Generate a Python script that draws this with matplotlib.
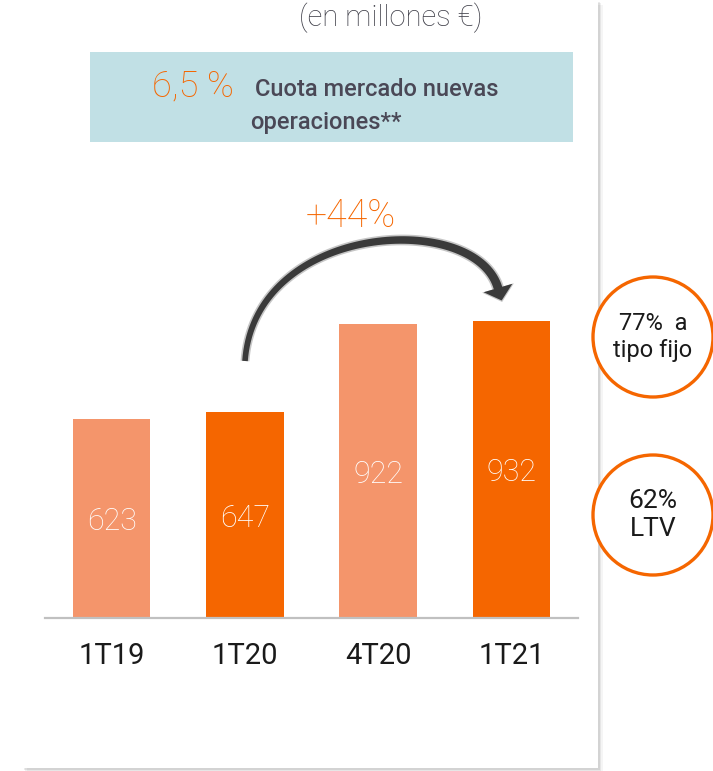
import matplotlib
matplotlib.use('Agg')
import matplotlib.pyplot as plt
import numpy as np
from matplotlib.patches import Rectangle, Ellipse, Polygon

plt.rcParams['font.family'] = ['Roboto', 'Open Sans', 'DejaVu Sans']

# data
periods = ['1T19', '1T20', '4T20', '1T21']
volumes = [623, 647, 922, 932]
bar_colors = ['#F4956B', '#F56600', '#F4956B', '#F56600']
growth_label = '+44%'
share_value = '6,5 %'
share_text = ['Cuota mercado nuevas', 'operaciones**']
badges = [['77%  a', 'tipo fijo'], ['62%', 'LTV']]

W, H = 713, 771
fig = plt.figure(figsize=(W / 100, H / 100), dpi=100)
fig.patch.set_facecolor('white')


def px(x, y):
    # pixel position (from top-left) to figure fraction
    return (x / W, 1 - y / H)


# card with soft shadow
for off, a in [(5, 0.04), (3, 0.06), (1.5, 0.08)]:
    fig.patches.append(Rectangle(px(22 + off, 768 + off), (598 - 22) / W, 768 / H,
                                 transform=fig.transFigure, facecolor='black',
                                 alpha=a, edgecolor='none', zorder=0))
fig.patches.append(Rectangle(px(22, 768), (598 - 22) / W, 768 / H,
                             transform=fig.transFigure, facecolor='white',
                             edgecolor='none', zorder=1))

# title
fig.text(*px(391, 18), '(en millones €)', ha='center', va='center',
         fontsize=21, fontweight='light', color='#3E3E48', zorder=3)

# teal box
fig.patches.append(Rectangle(px(90, 142), (573 - 90) / W, (142 - 52) / H,
                             transform=fig.transFigure, facecolor='#C1E0E5',
                             edgecolor='none', zorder=2))
fig.text(*px(152, 86), share_value, ha='left', va='center', fontsize=26,
         fontweight='light', color='#F56600', zorder=3)
fig.text(*px(255, 90), share_text[0], ha='left', va='center', fontsize=17,
         color='#4A4856', fontweight='medium', zorder=3)
fig.text(*px(250, 123), share_text[1], ha='left', va='center', fontsize=17,
         color='#4A4856', fontweight='medium', zorder=3)

# bars
ax = fig.add_axes([45 / W, 1 - 618 / H, 533 / W, (618 - 190) / H])
ax.set_zorder(3)
ax.patch.set_alpha(0)
x = range(len(periods))
bars = ax.bar(x, volumes, width=0.58, color=bar_colors, zorder=2)
for b, v in zip(bars, volumes):
    ax.text(b.get_x() + b.get_width() / 2, v / 2 - 10, str(v), ha='center',
            va='center', color='white', fontsize=22, fontweight='light')
ax.set_xlim(-0.5, 3.5)
ax.set_ylim(0, 1342)
ax.set_xticks(list(x))
ax.set_xticklabels(periods, fontsize=21, fontweight='normal', color='#1A1A1A')
ax.tick_params(axis='x', length=0, pad=17)
ax.set_yticks([])
for s in ['top', 'right', 'left']:
    ax.spines[s].set_visible(False)
ax.spines['bottom'].set_color('#C0C0C0')
ax.spines['bottom'].set_linewidth(1.6)

# growth arrow: tapered curved body + flat head (pixel space, y down)
P = np.array([[245, 361], [255, 222], [475, 210], [498, 288]], dtype=float)
t = np.linspace(0, 1, 80)[:, None]
curve = ((1 - t) ** 3 * P[0] + 3 * (1 - t) ** 2 * t * P[1]
         + 3 * (1 - t) * t ** 2 * P[2] + t ** 3 * P[3])
deriv = (3 * (1 - t) ** 2 * (P[1] - P[0]) + 6 * (1 - t) * t * (P[2] - P[1])
         + 3 * t ** 2 * (P[3] - P[2]))
tang = deriv / np.linalg.norm(deriv, axis=1, keepdims=True)
norm = np.column_stack([-tang[:, 1], tang[:, 0]])
half = (2.8 + 1.6 * t).ravel()[:, None]
end, te, ne = curve[-1], tang[-1], norm[-1]


def arrow_poly(extra):
    h = half + extra
    pts = np.vstack([curve + norm * h, [end + ne * (15 + extra)],
                     [end + te * (13 + extra)], [end - ne * (15 + extra)],
                     (curve - norm * h)[::-1]])
    return [px(a, b) for a, b in pts]


fig.patches.append(Polygon(arrow_poly(1.6), closed=True, transform=fig.transFigure,
                           facecolor='#A0A0A0', edgecolor='none', alpha=0.6,
                           zorder=4))
fig.patches.append(Polygon(arrow_poly(0), closed=True, transform=fig.transFigure,
                           facecolor='#3A3A3A', edgecolor='none', zorder=4))
fig.text(*px(351, 216), growth_label, ha='center', va='center', fontsize=27,
         fontweight='light', color='#F56600', zorder=5)

# badges
for (cy, lines, fs) in [(337, badges[0], 17), (515, badges[1], 19)]:
    fig.patches.append(Ellipse(px(653, cy), 120 / W, 120 / H,
                               transform=fig.transFigure, facecolor='white',
                               edgecolor='#F56600', lw=2.4, zorder=4))
    fig.text(*px(653, cy), '\n'.join(lines), ha='center', va='center',
             fontsize=fs, fontweight='normal', color='#1A1A1A',
             linespacing=1.25, zorder=5)

fig.savefig('out.png', dpi=100)
